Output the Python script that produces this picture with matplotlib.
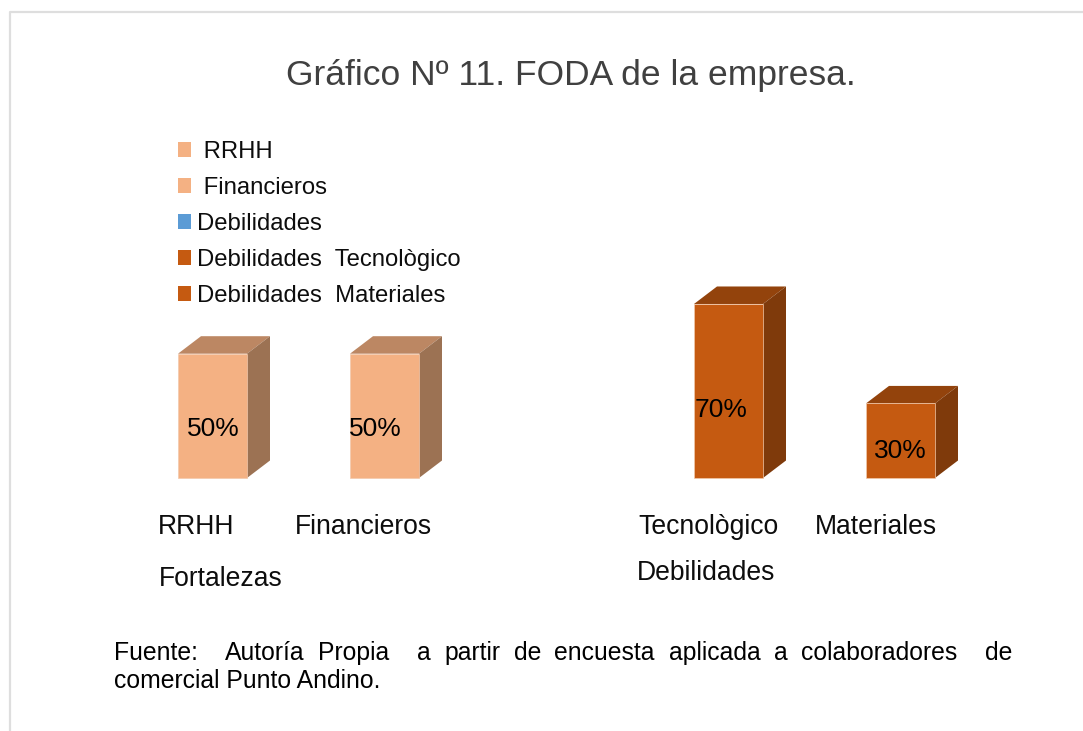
import matplotlib
matplotlib.use('Agg')
import matplotlib.pyplot as plt
from matplotlib.patches import Patch, Polygon

plt.rcParams['font.family'] = ['Liberation Sans', 'DejaVu Sans']

W, H = 1083, 731

# datos
categorias = ['RRHH', 'Financieros', 'Tecnològico', 'Materiales']
posiciones = [0, 1, 3, 4]
valores = [50, 50, 70, 30]
etiquetas = ['50%', '50%', '70%', '30%']
grupos = ['Fortalezas', 'Debilidades']
leyenda = [' RRHH', ' Financieros', 'Debilidades', 'Debilidades  Tecnològico', 'Debilidades  Materiales']
fuente_1 = 'Fuente:  Autoría Propia  a partir de encuesta aplicada a colaboradores  de'
fuente_2 = 'comercial Punto Andino.'

# colores: frente, tapa, lateral
CLARO = ('#F4B183', '#BC8763', '#9C7253')
OSCURO = ('#C55A11', '#93430C', '#7F3A0B')
colores_barra = [CLARO, CLARO, OSCURO, OSCURO]
colores_leyenda = ['#F4B183', '#F4B183', '#5B9BD5', '#C55A11', '#C55A11']

# escala: 172 px por categoria, 2.486 px por punto porcentual
PX_X = 172.0
PX_Y = 2.486
X0, Y0 = 212.5, 478.0
ANCHO = 69 / PX_X
DX, DY = 23 / PX_X, 17.5 / PX_Y


def fx(px):
    return px / W


def fy(py):
    return 1 - py / H


fig = plt.figure(figsize=(W / 100, H / 100), dpi=100, facecolor='white')
ax = fig.add_axes([0, 0, 1, 1])
ax.set_xlim(-X0 / PX_X, (W - X0) / PX_X)
ax.set_ylim(-(H - Y0) / PX_Y, Y0 / PX_Y)
ax.axis('off')

# marco de la pagina
fig.add_artist(plt.Line2D([fx(10), fx(10), fx(1083)], [fy(731), fy(12), fy(12)],
                          color='#DEDEDE', lw=1.6))

# barras con efecto 3D
ax.bar(posiciones, valores, width=ANCHO, color=[c[0] for c in colores_barra],
       edgecolor='#F2C9AC', linewidth=0.5, zorder=3)
for x, v, c in zip(posiciones, valores, colores_barra):
    izq, der = x - ANCHO / 2, x + ANCHO / 2
    ax.add_patch(Polygon([(izq, v), (der, v), (der + DX, v + DY), (izq + DX, v + DY)],
                         facecolor=c[1], edgecolor='none', zorder=2))
    ax.add_patch(Polygon([(der, 0), (der + DX, DY), (der + DX, v + DY), (der, v)],
                         facecolor=c[2], edgecolor='none', zorder=2))

# etiquetas de datos (en el original no estan centradas en la barra)
desv_x = [35, 25, 27, 34]
alto_etiqueta = [19.7, 19.7, 27.2, 10.9]
for x, t, dx, y in zip(posiciones, etiquetas, desv_x, alto_etiqueta):
    ax.text(x - ANCHO / 2 + dx / PX_X, y, t, fontsize=19, color='black',
            ha='center', va='center', zorder=4)

# ejes de categorias
pos_cat = [(158, 527), (295, 527), (638, 527), (815, 527)]
for (px, py), t in zip(pos_cat, categorias):
    fig.text(fx(px), fy(py), t, fontsize=19.1, color='#0D0D0D', ha='left', va='center')
pos_grp = [(159, 579.5), (637, 573.5)]
for (px, py), t in zip(pos_grp, grupos):
    fig.text(fx(px), fy(py), t, fontsize=19.1, color='#0D0D0D', ha='left', va='center')

# titulo
fig.text(fx(570.5), fy(75), 'Gráfico Nº 11. FODA de la empresa.', fontsize=25.5,
         color='#404040', ha='center', va='center')

# leyenda
handles = [Patch(facecolor=c, edgecolor='none') for c in colores_leyenda]
fig.legend(handles, leyenda, loc='upper left', bbox_to_anchor=(fx(178), fy(141)),
           frameon=False, fontsize=17.2, handlelength=0.55, handleheight=0.55,
           handletextpad=0.25, labelspacing=0.585, borderpad=0, borderaxespad=0,
           labelcolor='#0D0D0D')

# fuente: primera linea justificada entre 114 y 1012 px, los espacios dobles cuentan doble
trozos = fuente_1.split(' ')
textos = [fig.text(fx(114), fy(653), p, fontsize=17.8, color='black', ha='left', va='center')
          for p in trozos if p]
r = fig.canvas.get_renderer()
anchos = [t.get_window_extent(r).width for t in textos]
hueco = (1012 - 114 - sum(anchos)) / (len(trozos) - 1)
cursor = 114
i = 0
for p in trozos:
    if p:
        textos[i].set_x(fx(cursor))
        cursor += anchos[i] + hueco
        i += 1
    else:
        cursor += hueco
fig.text(fx(114), fy(681), fuente_2, fontsize=17.8, color='black', ha='left', va='center')

fig.savefig('out.png', dpi=100, facecolor='white')
